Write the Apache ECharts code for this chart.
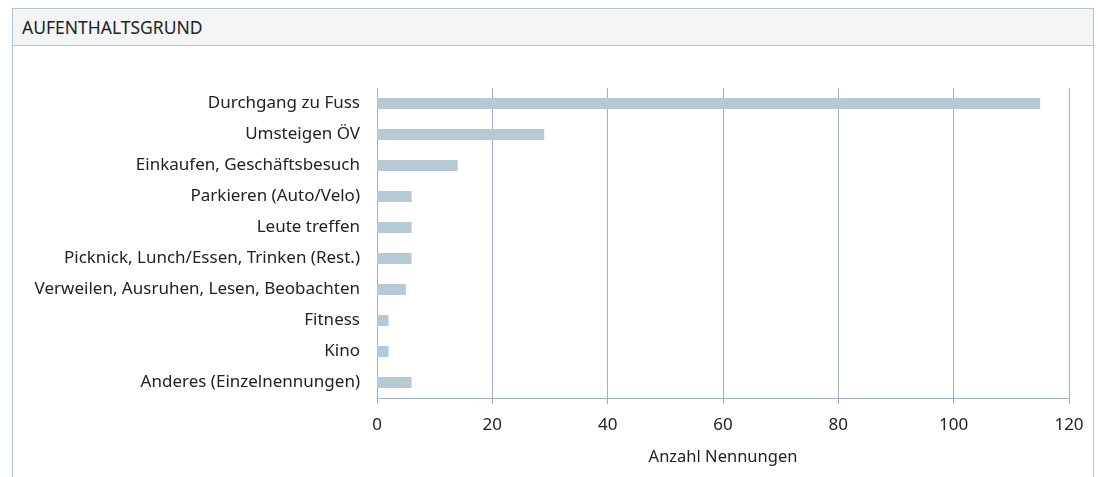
<!DOCTYPE html>
<html>
<head>
<meta charset="utf-8">
<script src="https://cdn.jsdelivr.net/npm/echarts@6/dist/echarts.min.js"></script>
<style>
  html, body { margin: 0; padding: 0; background: #fff; }
  .frame {
    position: absolute; left: 12px; top: 8px; width: 1082px; height: 480px;
    border: 1px solid #b3c2d0; border-bottom: none; box-sizing: border-box;
  }
  .frame .head {
    height: 37px; background: #f2f4f6; border-bottom: 1px solid #b3c2d0;
    box-sizing: border-box; padding-left: 9px; line-height: 36px;
    font-family: "Noto Sans", sans-serif; font-size: 17.5px; color: #222;
  }
  #chart { position: absolute; left: 0; top: 0; width: 1098px; height: 477px; }
</style>
</head>
<body>
<div class="frame"><div class="head">AUFENTHALTSGRUND</div></div>
<div id="chart"></div>
<script>
// Daten
var categories = [
  'Durchgang zu Fuss',
  'Umsteigen ÖV',
  'Einkaufen, Geschäftsbesuch',
  'Parkieren (Auto/Velo)',
  'Leute treffen',
  'Picknick, Lunch/Essen, Trinken (Rest.)',
  'Verweilen, Ausruhen, Lesen, Beobachten',
  'Fitness',
  'Kino',
  'Anderes (Einzelnennungen)'
];
var values = [115, 29, 14, 6, 6, 6, 5, 2, 2, 6];
var xTicks = [0, 20, 40, 60, 80, 100, 120];

var lineColor = '#9fb1c5';
var mychart = echarts.init(document.getElementById('chart'));
var option = {
  animation: false,
  textStyle: { fontFamily: 'Noto Sans' },
  grid: { left: 377, right: 29, top: 88, bottom: 79 },
  xAxis: {
    type: 'value',
    min: xTicks[0],
    max: xTicks[xTicks.length - 1],
    interval: 20,
    name: 'Anzahl Nennungen',
    nameLocation: 'middle',
    nameGap: 51,
    nameTextStyle: { fontSize: 16.5, color: '#222' },
    axisLine: { show: true, lineStyle: { color: lineColor, width: 1 } },
    axisTick: { show: true, length: 6, lineStyle: { color: lineColor } },
    splitLine: { show: true, lineStyle: { color: lineColor, width: 1 } },
    axisLabel: { fontSize: 17, color: '#222', margin: 19 }
  },
  yAxis: {
    type: 'category',
    inverse: true,
    data: categories,
    axisLine: { show: false },
    axisTick: { show: false },
    axisLabel: { fontSize: 17, color: '#222', margin: 17 }
  },
  series: [{
    type: 'bar',
    data: values,
    barWidth: 11,
    itemStyle: { color: '#b6c9d4' }
  }]
};
mychart.setOption(option);
</script>
</body>
</html>
